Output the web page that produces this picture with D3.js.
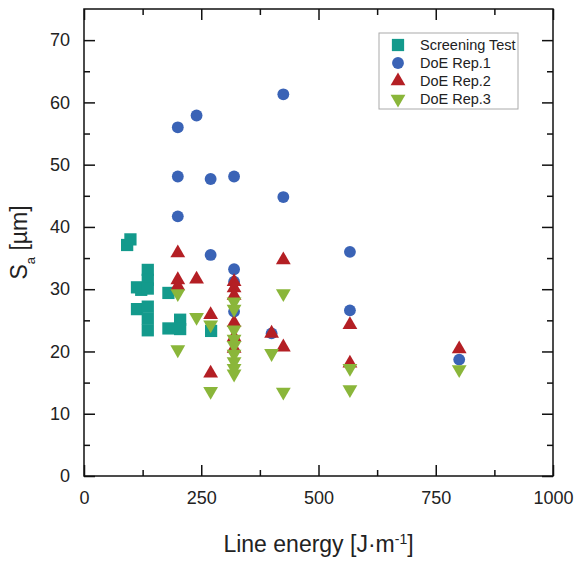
<!DOCTYPE html>
<html>
<head>
<meta charset="utf-8">
<script src="https://cdn.jsdelivr.net/npm/d3@7"></script>
<style>
  body { margin: 0; background: #fff; }
  text { font-family: "Liberation Sans", Arial, sans-serif; fill: #222; }
</style>
</head>
<body>
<script>
// data
const screenX = [92, 99, 113, 122, 136, 136, 136, 113, 136, 136, 136, 180, 180, 205, 205, 271];
const screenY = [37.1, 38.0, 30.3, 29.9, 33.1, 31.5, 30.1, 26.8, 27.2, 25.3, 23.4, 29.4, 23.7, 25.1, 23.6, 23.3];

const rep1X = [200, 200, 200, 240, 270, 270, 320, 320, 320, 320, 400, 425, 425, 567, 567, 800];
const rep1Y = [56.0, 48.1, 41.7, 57.9, 47.7, 35.5, 48.1, 33.2, 31.2, 26.4, 22.9, 61.3, 44.8, 36.0, 26.6, 18.7];

const rep2X = [200, 200, 200, 240, 270, 270, 320, 320, 320, 320, 320, 320, 400, 425, 425, 567, 567, 800];
const rep2Y = [35.8, 31.5, 30.5, 31.6, 25.9, 16.5, 31.2, 30.2, 29.0, 24.6, 22.3, 20.5, 22.9, 34.7, 20.7, 24.3, 18.1, 20.4];

const rep3X = [200, 200, 240, 270, 270, 320, 320, 320, 320, 320, 320, 320, 320, 320, 400, 425, 425, 567, 567, 800];
const rep3Y = [29.3, 20.3, 25.5, 24.3, 13.6, 28.0, 26.8, 23.5, 22.0, 21.0, 19.6, 18.4, 17.3, 16.4, 19.7, 29.3, 13.5, 17.3, 13.9, 17.1];

const xTicks = [0, 250, 500, 750, 1000];
const yTicks = [0, 10, 20, 30, 40, 50, 60, 70];
const legendNames = ['Screening Test', 'DoE Rep.1', 'DoE Rep.2', 'DoE Rep.3'];

const w = 578, h = 562;
const pLeft = 84, pRight = 553, pTop = 9, pBottom = 476;

const svg = d3.select('body').append('svg').attr('width', w).attr('height', h);

const x = d3.scaleLinear().domain([0, 1000]).range([pLeft, pRight]);
const y = d3.scaleLinear().domain([0, 75]).range([pBottom, pTop]);

const xMinor = d3.range(125, 1000, 250);
const yMinor = d3.range(5, 75, 10);

// ticks (inward) on all four sides
svg.append('g').attr('transform', 'translate(0,' + pBottom + ')')
  .call(d3.axisBottom(x).tickValues(xTicks).tickSize(-11).tickPadding(15).tickFormat(d3.format('d')))
  .call(g => g.select('.domain').remove())
  .call(g => g.selectAll('text').style('font-size', '18px').attr('fill', '#222'));
svg.append('g').attr('transform', 'translate(0,' + pBottom + ')')
  .call(d3.axisBottom(x).tickValues(xMinor).tickSize(-6).tickFormat(''))
  .call(g => g.select('.domain').remove());
svg.append('g').attr('transform', 'translate(0,' + pTop + ')')
  .call(d3.axisTop(x).tickValues(xTicks).tickSize(-11).tickFormat(''))
  .call(g => g.select('.domain').remove());
svg.append('g').attr('transform', 'translate(0,' + pTop + ')')
  .call(d3.axisTop(x).tickValues(xMinor).tickSize(-6).tickFormat(''))
  .call(g => g.select('.domain').remove());

svg.append('g').attr('transform', 'translate(' + pLeft + ',0)')
  .call(d3.axisLeft(y).tickValues(yTicks).tickSize(-11).tickPadding(14))
  .call(g => g.select('.domain').remove())
  .call(g => g.selectAll('text').style('font-size', '18px').attr('fill', '#222'));
svg.append('g').attr('transform', 'translate(' + pLeft + ',0)')
  .call(d3.axisLeft(y).tickValues(yMinor).tickSize(-6).tickFormat(''))
  .call(g => g.select('.domain').remove());
svg.append('g').attr('transform', 'translate(' + pRight + ',0)')
  .call(d3.axisRight(y).tickValues(yTicks).tickSize(-11).tickFormat(''))
  .call(g => g.select('.domain').remove());
svg.append('g').attr('transform', 'translate(' + pRight + ',0)')
  .call(d3.axisRight(y).tickValues(yMinor).tickSize(-6).tickFormat(''))
  .call(g => g.select('.domain').remove());

svg.selectAll('.tick line').attr('stroke', '#111').attr('stroke-width', 1.5);

svg.append('rect')
  .attr('x', pLeft).attr('y', pTop)
  .attr('width', pRight - pLeft).attr('height', pBottom - pTop)
  .attr('fill', 'none').attr('stroke', '#111').attr('stroke-width', 1.5);

// series
const series = [
  { xs: screenX, ys: screenY, type: d3.symbolSquare, size: 150, color: '#139a8c', rot: 0 },
  { xs: rep1X, ys: rep1Y, type: d3.symbolCircle, size: 110, color: '#3a63b6', rot: 0 },
  { xs: rep2X, ys: rep2Y, type: d3.symbolTriangle, size: 95, color: '#b41f24', rot: 0 },
  { xs: rep3X, ys: rep3Y, type: d3.symbolTriangle, size: 95, color: '#8ab63a', rot: 180 }
];

series.forEach(s => {
  const pts = s.xs.map((v, i) => [v, s.ys[i]]);
  svg.append('g').selectAll('path').data(pts).enter()
    .append('path')
    .attr('d', d3.symbol().type(s.type).size(s.size))
    .attr('transform', d => 'translate(' + x(d[0]) + ',' + y(d[1]) + ') rotate(' + s.rot + ')')
    .attr('fill', s.color);
});

// legend
const lg = svg.append('g');
lg.append('rect').attr('x', 379).attr('y', 33).attr('width', 139).attr('height', 76)
  .attr('fill', '#fff').attr('stroke', '#aaa').attr('stroke-width', 1);
series.forEach((s, i) => {
  const ly = 45 + i * 18;
  lg.append('path')
    .attr('d', d3.symbol().type(s.type).size(s.size))
    .attr('transform', 'translate(398,' + ly + ') rotate(' + s.rot + ')')
    .attr('fill', s.color);
  lg.append('text').attr('x', 420).attr('y', ly).attr('dy', '0.35em')
    .style('font-size', '14.5px').text(legendNames[i]);
});

// axis titles
const xt = svg.append('text').attr('x', (pLeft + pRight) / 2).attr('y', 552)
  .attr('text-anchor', 'middle').style('font-size', '23px');
xt.append('tspan').text('Line energy [J·m');
xt.append('tspan').attr('baseline-shift', 'super').style('font-size', '14px').text('-1');
xt.append('tspan').text(']');

const yt = svg.append('text')
  .attr('transform', 'translate(27,' + ((pTop + pBottom) / 2) + ') rotate(-90)')
  .attr('text-anchor', 'middle').style('font-size', '23px');
yt.append('tspan').text('S');
yt.append('tspan').attr('baseline-shift', 'sub').style('font-size', '13px').text('a');
yt.append('tspan').text(' [µm]');
</script>
</body>
</html>
